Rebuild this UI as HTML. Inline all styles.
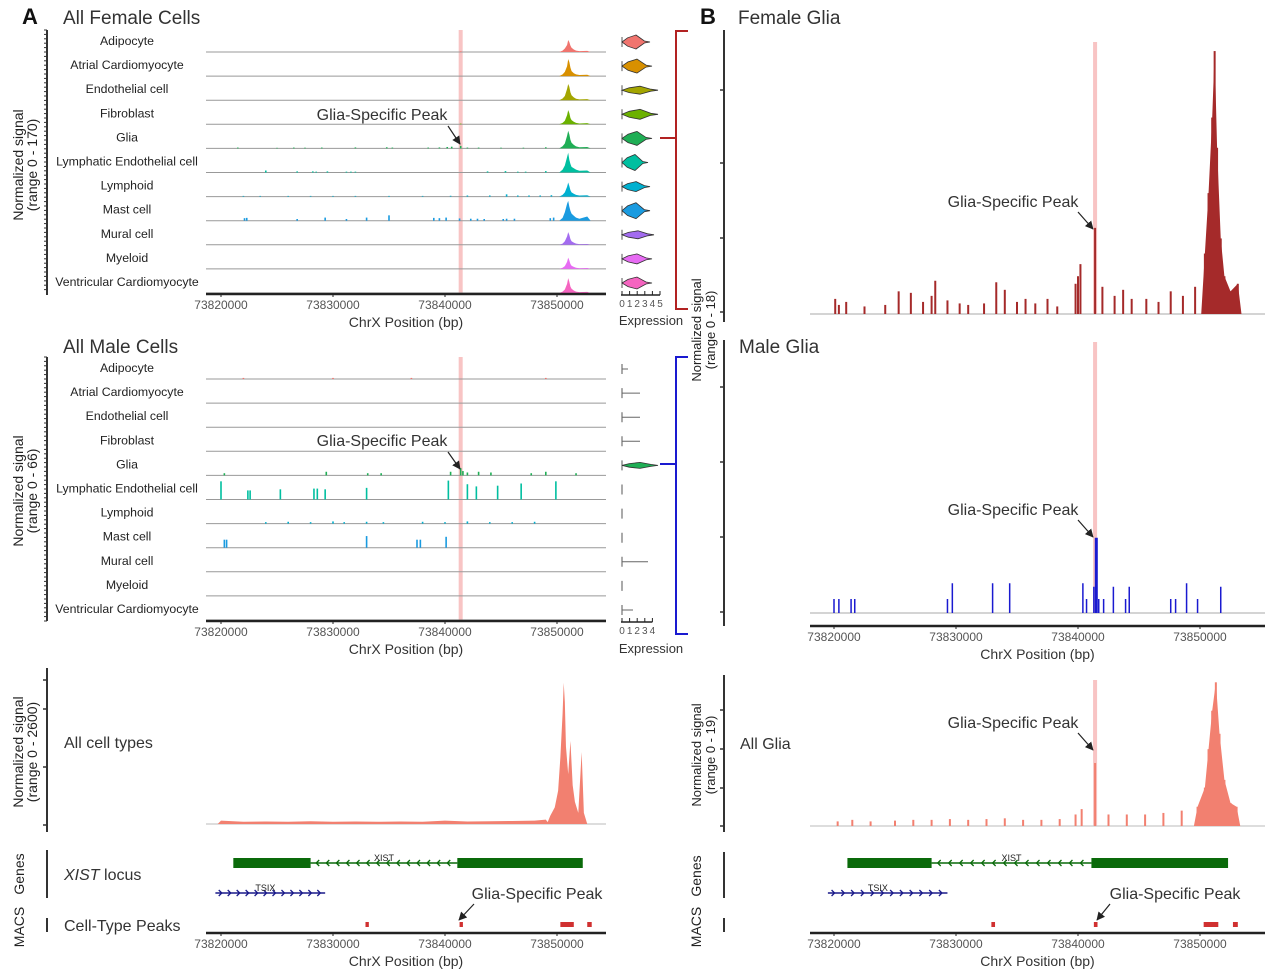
<!DOCTYPE html>
<html><head><meta charset="utf-8"><style>
body{margin:0;background:#fff}
svg{display:block;font-family:"Liberation Sans",sans-serif}
.t{fill:#333}
</style></head><body>
<svg id="fig" width="1280" height="977" viewBox="0 0 1280 977">
<defs><marker id="ah" viewBox="0 0 10 10" refX="9" refY="5" markerWidth="7" markerHeight="7" orient="auto"><path d="M0,0L10,5L0,10z" fill="#222"/></marker></defs>
<g id="static">
<text x="22" y="24" font-size="22" font-weight="bold" fill="#111">A</text>
<text x="63" y="24" font-size="19" class="t">All Female Cells</text>
<text x="63" y="353" font-size="19" class="t">All Male Cells</text>
<text x="700" y="24" font-size="22" font-weight="bold" fill="#111">B</text>
<text x="738" y="24" font-size="19" class="t">Female Glia</text>
<text x="739" y="353" font-size="19" class="t">Male Glia</text>
<text x="64" y="748" font-size="16" class="t">All cell types</text>
<text x="740" y="749" font-size="16" class="t">All Glia</text>
<text x="64" y="880" font-size="16" class="t"><tspan font-style="italic">XIST</tspan> locus</text>
<text x="64" y="931" font-size="16" class="t">Cell-Type Peaks</text>
<g font-size="14" fill="#222" transform="translate(23,165) rotate(-90)"><text text-anchor="middle">Normalized signal</text><text y="14" text-anchor="middle">(range 0 - 170)</text></g>
<g font-size="14" fill="#222" transform="translate(23,491) rotate(-90)"><text text-anchor="middle">Normalized signal</text><text y="14" text-anchor="middle">(range 0 - 66)</text></g>
<g font-size="14" fill="#222" transform="translate(23,752) rotate(-90)"><text text-anchor="middle">Normalized signal</text><text y="14" text-anchor="middle">(range 0 - 2600)</text></g>
<g font-size="13" fill="#222" transform="translate(701,330) rotate(-90)"><text text-anchor="middle">Normalized signal</text><text y="14" text-anchor="middle">(range 0 - 18)</text></g>
<g font-size="13" fill="#222" transform="translate(701,755) rotate(-90)"><text text-anchor="middle">Normalized signal</text><text y="14" text-anchor="middle">(range 0 - 19)</text></g>
<text font-size="14" fill="#222" transform="translate(24,874) rotate(-90)" text-anchor="middle">Genes</text>
<text font-size="14" fill="#222" transform="translate(24,927) rotate(-90)" text-anchor="middle">MACS</text>
<text font-size="14" fill="#222" transform="translate(701,876) rotate(-90)" text-anchor="middle">Genes</text>
<text font-size="14" fill="#222" transform="translate(701,927) rotate(-90)" text-anchor="middle">MACS</text>
<g stroke="#333" stroke-width="2">
<line x1="47" y1="30" x2="47" y2="295"/>
<line x1="47" y1="357" x2="47" y2="621"/>
<line x1="47" y1="668" x2="47" y2="832"/>
<line x1="47" y1="850" x2="47" y2="898"/>
<line x1="47" y1="918" x2="47" y2="932"/>
<line x1="724" y1="30" x2="724" y2="322"/>
<line x1="724" y1="340" x2="724" y2="626"/>
<line x1="724" y1="675" x2="724" y2="832"/>
<line x1="724" y1="852" x2="724" y2="898"/>
<line x1="724" y1="918" x2="724" y2="932"/>
</g>
<g stroke="#333" stroke-width="1.5">
<line x1="43" y1="680" x2="47" y2="680"/><line x1="43" y1="709" x2="47" y2="709"/><line x1="43" y1="767" x2="47" y2="767"/><line x1="43" y1="825" x2="47" y2="825"/>
<line x1="720" y1="90" x2="724" y2="90"/><line x1="720" y1="163" x2="724" y2="163"/><line x1="720" y1="238" x2="724" y2="238"/><line x1="720" y1="312" x2="724" y2="312"/>
<line x1="720" y1="387" x2="724" y2="387"/><line x1="720" y1="462" x2="724" y2="462"/><line x1="720" y1="537" x2="724" y2="537"/><line x1="720" y1="612" x2="724" y2="612"/>
<line x1="720" y1="710" x2="724" y2="710"/><line x1="720" y1="749" x2="724" y2="749"/><line x1="720" y1="788" x2="724" y2="788"/><line x1="720" y1="826" x2="724" y2="826"/>
</g>
<path d="M688,31H676V309H688M660,138H676" fill="none" stroke="#b22222" stroke-width="2"/>
<path d="M688,357H676V634H688M660,464H676" fill="none" stroke="#1a1ad0" stroke-width="2"/>
<text x="651" y="325" font-size="13" text-anchor="middle" class="t">Expression</text>
<text x="651" y="653" font-size="13" text-anchor="middle" class="t">Expression</text>
</g>
<g id="dyn"></g>
</svg>
<script>
const NS='http://www.w3.org/2000/svg';
const root=document.getElementById('dyn');
function el(tag,attrs,parent){const e=document.createElementNS(NS,tag);for(const k in attrs)e.setAttribute(k,attrs[k]);(parent||root).appendChild(e);return e;}

// ---------- DATA ----------
const cellTypes=['Adipocyte','Atrial Cardiomyocyte','Endothelial cell','Fibroblast','Glia','Lymphatic Endothelial cell','Lymphoid','Mast cell','Mural cell','Myeloid','Ventricular Cardiomyocyte'];
const trackColors=['#f0746e','#d89000','#a3a500','#6bb100','#1fae55','#00bfa0','#00b0d0','#1a9be0','#a36cf0','#e76bf3','#f564c0'];
const xTicks=[73820000,73830000,73840000,73850000];
const highlightPos=73841400;
const clusterPos=[73850500,73850700,73850900,73851000,73851100,73851200,73851300,73851500,73851700,73852000,73852700];
const femaleCluster=[
[10,25,50,85,70,45,30,18,10,6,8],
[12,30,70,120,100,60,35,20,12,8,10],
[12,30,80,115,95,55,35,20,10,6,8],
[10,25,65,100,80,45,30,18,10,6,8],
[15,35,90,125,100,60,40,25,14,8,10],
[20,50,110,140,90,60,40,30,20,12,14],
[12,30,70,100,75,45,30,20,12,8,10],
[20,60,120,140,100,70,50,35,22,14,30],
[8,25,60,90,70,40,25,15,8,5,6],
[8,20,50,80,60,35,22,14,8,5,6],
[10,25,65,105,80,45,30,18,10,6,8]];
const femaleExtraPos=[[41.4],[],[],[41.4],[21.5,25,26.5,27.5,29,32,34.8,35.3,38.5,39.5,40.2,40.6,41.4,42,43,45,47,49],[24,26.8,28.2,28.5,29.5,31.2,31.6,32,43.8,45.4,46.5,47.2,49],[22,23.5,26,28,30,32,35,38,40.5,42,44,45.5,46.5,47.5,48.5,49.5],[22.1,22.3,26.8,29.3,31.2,33,35,39,39.5,40.1,41.3,42.3,42.9,43.5,45.2,45.5,46.2,49.4,49.7],[],[],[]];
const femaleExtraVal=[[5],[],[],[5],[6,4,6,5,6,7,8,6,6,7,10,12,18,6,6,5,5,8],[14,8,8,6,8,6,6,6,8,10,6,6,10],[5,5,5,5,5,5,5,5,6,8,8,16,8,8,8,10],[18,20,12,22,12,22,38,20,18,22,16,14,14,12,12,14,14,18,22],[],[],[]];
const femaleViolinLen=[28,30,36,36,30,26,28,28,32,30,30];
const femaleViolinW=[7,7,4,5,7,8,5,8,4,5,6];
const maleExtraPos=[[22,30,37,49],[],[],[],[20.3,29.4,33.1,34.3,40.5,41.4,41.6,42,43,44.1,47.7,49,51.7],[20,22.4,22.6,25.3,28.3,28.6,29.3,33,40.3,42,42.8,44.7,46.8,49.9],[24,26,28,30,31,33,34.5,38,40,42,44,46,48],[20.3,20.5,33,37.5,37.8,40.1],[],[],[]];
const maleExtraVal=[[3,3,3,3],[],[],[],[6,10,6,6,10,20,12,8,10,8,6,10,6],[50,25,25,28,30,30,28,32,52,42,36,38,44,50],[4,5,4,6,4,5,4,5,4,6,4,4,5],[22,22,32,22,22,30],[],[],[]];
const maleViolinLen=[6,18,18,18,36,0,0,0,26,0,11];
const maleViolinW=[0,0,0,0,3,0,0,0,0,0,0];
const allPos=[73849400,73849800,73850100,73850300,73850500,73850600,73850700,73850800,73851000,73851200,73851400,73851600,73851900,73852200,73852400];
const allVal=[150,300,600,1200,2000,2550,2200,1400,900,1500,700,400,200,1300,200];
const allBgPos=[73820000,73822000,73824000,73826000,73828000,73830000,73832000,73834000,73836000,73838000,73840000,73842000,73844000,73846000,73848000,73849000];
const allBgVal=[60,40,45,40,50,40,45,40,45,40,60,45,50,55,60,80];
const fgPos=[73820100,73820400,73821000,73822500,73824200,73825300,73826300,73827300,73828000,73828300,73829300,73830300,73831000,73832300,73833300,73834000,73835000,73835700,73836500,73837500,73838300,73839800,73840000,73840200,73841400,73842000,73843000,73843700,73844400,73845600,73846600,73847600,73848600,73849600,73850400,73850700,73851000,73851200,73851400,73851700,73852000,73852500,73853100];
const fgVal=[1.0,0.6,0.8,0.5,0.6,1.5,1.4,0.8,1.2,2.2,0.9,0.7,0.6,0.7,2.1,1.6,0.8,1.0,0.7,1.0,0.5,2.0,2.5,3.3,5.7,1.8,1.2,1.6,1.0,1.0,0.8,1.5,1.2,1.8,4,8,13,17.4,11,5,2.5,1.5,2.0];
const mgPos=[73820000,73820400,73821400,73821700,73829300,73829700,73833000,73834400,73840400,73840700,73841300,73841500,73841700,73842100,73842900,73843900,73844200,73847600,73848000,73848900,73849800,73851700];
const mgVal=[0.8,0.8,0.8,0.8,0.8,1.7,1.7,1.7,1.7,0.8,1.5,1.8,0.8,0.8,1.5,0.8,1.5,0.8,0.8,1.7,0.8,1.5];
const mgPeak=[73841500];const mgPeakVal=[4.3];
const agPos=[73820300,73821500,73823000,73825000,73826500,73828000,73829500,73831000,73832500,73834000,73835500,73837000,73838500,73839800,73840300,73841400,73842500,73844000,73845500,73847000,73848500,73849800,73850400,73850700,73851000,73851300,73851600,73852000,73852500,73853000];
const agVal=[0.6,0.8,0.6,0.7,0.8,0.8,0.9,0.8,0.9,1.0,0.8,0.8,0.9,1.5,2.2,8.2,1.5,1.5,1.5,1.7,2.0,2.5,5,10,15,18.7,12,6,3,2.5];
const xistThick=[[73821100,73828000],[73841100,73852300]];
const xistThin=[73828000,73841100];
const tsix=[73819500,73829300];
const macsPeaks=[[73832900,73833200],[73841300,73841600],[73850300,73851500],[73852700,73853100]];

const xA=p=>221+(p-73820000)*0.0112;
const xB=p=>834+(p-73820000)*0.0122;

function bars(g,pos,val,xs,base,pxPer,color,w,name){
  pos.forEach((p,i)=>{const h=val[i]*pxPer;const r=el('rect',{x:xs(p)-w/2,y:base-h,width:w,height:h,fill:color},g);
  
  });
}
function area(g,pos,val,xs,base,pxPer,color,name){
  let d='M'+xs(pos[0]-300)+','+base;
  pos.forEach((p,i)=>{d+='L'+xs(p)+','+(base-val[i]*pxPer);});
  d+='L'+xs(pos[pos.length-1]+300)+','+base+'Z';
  const e=el('path',{d:d,fill:color},g);
  
  
}
function xAxis(xs,x1,x2,y,name){
  const g=el('g',{});
  
  
  el('line',{x1:x1,y1:y,x2:x2,y2:y,stroke:'#222','stroke-width':2.5},g);
  xTicks.forEach(t=>{el('line',{x1:xs(t),y1:y,x2:xs(t),y2:y+3,stroke:'#222'},g);
   const tx=el('text',{x:xs(t),y:y+15,'font-size':12,'text-anchor':'middle',fill:'#555'},g);tx.textContent=String(t);
   
   });
  const tt=el('text',{x:(x1+x2)/2,y:y+33,'font-size':14,'text-anchor':'middle',fill:'#333'},g);tt.textContent='ChrX Position (bp)';
  
  
}
function annot(tx,ty,ax1,ay1,ax2,ay2,name){
  const t=el('text',{x:tx,y:ty,'font-size':16,'text-anchor':'middle',fill:'#333'});t.textContent='Glia-Specific Peak';
  
  
  el('line',{x1:ax1,y1:ay1,x2:ax2,y2:ay2,stroke:'#222','stroke-width':1.2,'marker-end':'url(#ah)'});
}

function panel(top,base0,step,extraPos,extraVal,clusters,range,violLen,violW,vColor,axisY,exprTicks,name){
  const g=el('g',{});
  
  
  for(let y=top;y<=axisY;y+=4.4){el('line',{x1:44,y1:y,x2:47,y2:y,stroke:'#333','stroke-width':1},g);}
  el('rect',{x:xA(highlightPos)-2,y:top,width:4,height:axisY-top,fill:'#f8c4c4'},g);
  const px=24/range;
  cellTypes.forEach((ct,i)=>{
    const b=base0+i*step;
    const lab=el('text',{x:127,y:b-7,'font-size':12.3,'text-anchor':'middle',fill:'#222'},g);lab.textContent=ct;
    
    
    el('line',{x1:206,y1:b,x2:606,y2:b,stroke:'#999','stroke-width':1},g);
    if(clusters) area(g,clusterPos,clusters[i],xA,b,px,trackColors[i],'track-'+i);
    bars(g,extraPos[i].map(k=>73800000+k*1000),extraVal[i],xA,b,px,trackColors[i],1.6,'track-'+i);
    const cy=b-10;
    el('line',{x1:622,y1:cy-5,x2:622,y2:cy+5,stroke:'#555'},g);
    if(violLen[i]>0){
      if(violW[i]>0){const L=violLen[i],W=violW[i];
        const v=el('path',{d:`M622,${cy}L${622+L*0.2},${cy-W*0.6}L${622+L*0.5},${cy-W}L${622+L*0.8},${cy-1}L${622+L},${cy}L${622+L*0.8},${cy+1}L${622+L*0.5},${cy+W}L${622+L*0.2},${cy+W*0.6}Z`,fill:vColor?vColor:trackColors[i],stroke:'#333','stroke-width':0.8},g);
        
        
      } else {el('line',{x1:622,y1:cy,x2:622+violLen[i],y2:cy,stroke:'#666'},g);}
    }
  });
  xAxis(xA,206,606,axisY,name+'-x-axis');
  el('line',{x1:621,y1:axisY+1,x2:622+exprTicks*7.6,y2:axisY+1,stroke:'#222','stroke-width':1.5},g);
  for(let k=0;k<=exprTicks;k++){el('line',{x1:622+k*7.6,y1:axisY-3,x2:622+k*7.6,y2:axisY+1,stroke:'#222'},g);
    const t=el('text',{x:622+k*7.6,y:axisY+13,'font-size':10,'text-anchor':'middle',fill:'#555'},g);t.textContent=k;}
}
panel(30,52,24.1,femaleExtraPos,femaleExtraVal,femaleCluster,170,femaleViolinLen,femaleViolinW,null,294,5,'female-panel');
panel(357,379,24.1,maleExtraPos,maleExtraVal,null,66,maleViolinLen,maleViolinW,'#1fae55',621,4,'male-panel');
annot(382,120,448,126,460,144,'annotation-female');
annot(382,446,448,452,460,469,'annotation-male');

el('line',{x1:206,y1:824,x2:606,y2:824,stroke:'#bbb'});
area(root,allBgPos,allBgVal,xA,824,144/2600,'#f28070','all-bg');
area(root,allPos,allVal,xA,824,144/2600,'#f28070','all-peak');

function genes(xs,x1,x2,name){
  const g=el('g',{});
  
  
  el('line',{x1:xs(xistThin[0]),y1:863,x2:xs(xistThin[1]),y2:863,stroke:'#0a6a0a','stroke-width':1.5},g);
  xistThick.forEach(r=>el('rect',{x:xs(r[0]),y:858,width:xs(r[1])-xs(r[0]),height:10,fill:'#0a6a0a'},g));
  for(let p=xistThin[0]+500;p<xistThin[1];p+=900){const x=xs(p);el('path',{d:`M${x+3},860L${x},863L${x+3},866`,fill:'none',stroke:'#0a6a0a','stroke-width':1.3},g);}
  const xt=el('text',{x:(xs(xistThin[0])+xs(xistThin[1]))/2,y:861,'font-size':9,'text-anchor':'middle',fill:'#222'},g);xt.textContent='XIST';
  el('line',{x1:xs(tsix[0]),y1:893,x2:xs(tsix[1]),y2:893,stroke:'#1a1a8a','stroke-width':1.5},g);
  for(let p=tsix[0]+300;p<tsix[1];p+=800){const x=xs(p);el('path',{d:`M${x},890L${x+3},893L${x},896`,fill:'none',stroke:'#1a1a8a','stroke-width':1.3},g);}
  const ts=el('text',{x:xs(tsix[0])+50,y:891,'font-size':9,'text-anchor':'middle',fill:'#222'},g);ts.textContent='TSIX';
  macsPeaks.forEach(r=>{const m=el('rect',{x:xs(r[0]),y:922,width:Math.max(3,xs(r[1])-xs(r[0])),height:5,fill:'#d03030'},g);
    
    });
  xAxis(xs,x1,x2,933,name+'-x-axis');
}
genes(xA,206,606,'genes-a');
genes(xB,810,1265,'genes-b');
annot(537,899,474,904,459,920,'annotation-macs-a');
annot(1175,899,1110,904,1097,920,'annotation-macs-b');

el('rect',{x:xB(highlightPos)-2,y:42,width:4,height:272,fill:'#f8c4c4'});
el('line',{x1:810,y1:314,x2:1265,y2:314,stroke:'#aaa'});
bars(root,fgPos,fgVal,xB,314,272/18,'#a52a2a',2,'female-glia');
area(root,fgPos.slice(34),fgVal.slice(34),xB,314,272/18,'#a52a2a','female-glia-peak');
annot(1013,207,1078,212,1093,229,'annotation-female-glia');

el('rect',{x:xB(highlightPos)-2,y:342,width:4,height:271,fill:'#f8c4c4'});
el('line',{x1:810,y1:613,x2:1265,y2:613,stroke:'#aaa'});
bars(root,mgPos,mgVal,xB,613,17.5,'#1a1ad0',1.5,'male-glia');
bars(root,mgPeak,mgPeakVal,xB,613,17.5,'#1a1ad0',3,'male-glia-peak');
xAxis(xB,810,1265,626,'male-glia-x-axis');
annot(1013,515,1078,520,1093,537,'annotation-male-glia');

el('rect',{x:xB(highlightPos)-2,y:680,width:4,height:146,fill:'#f8c4c4'});
el('line',{x1:810,y1:826,x2:1265,y2:826,stroke:'#bbb'});
bars(root,agPos,agVal,xB,826,146/19,'#f28070',2,'all-glia');
area(root,agPos.slice(21),agVal.slice(21),xB,826,146/19,'#f28070','all-glia-peak');
annot(1013,728,1078,733,1093,750,'annotation-all-glia');
</script>
</body></html>
